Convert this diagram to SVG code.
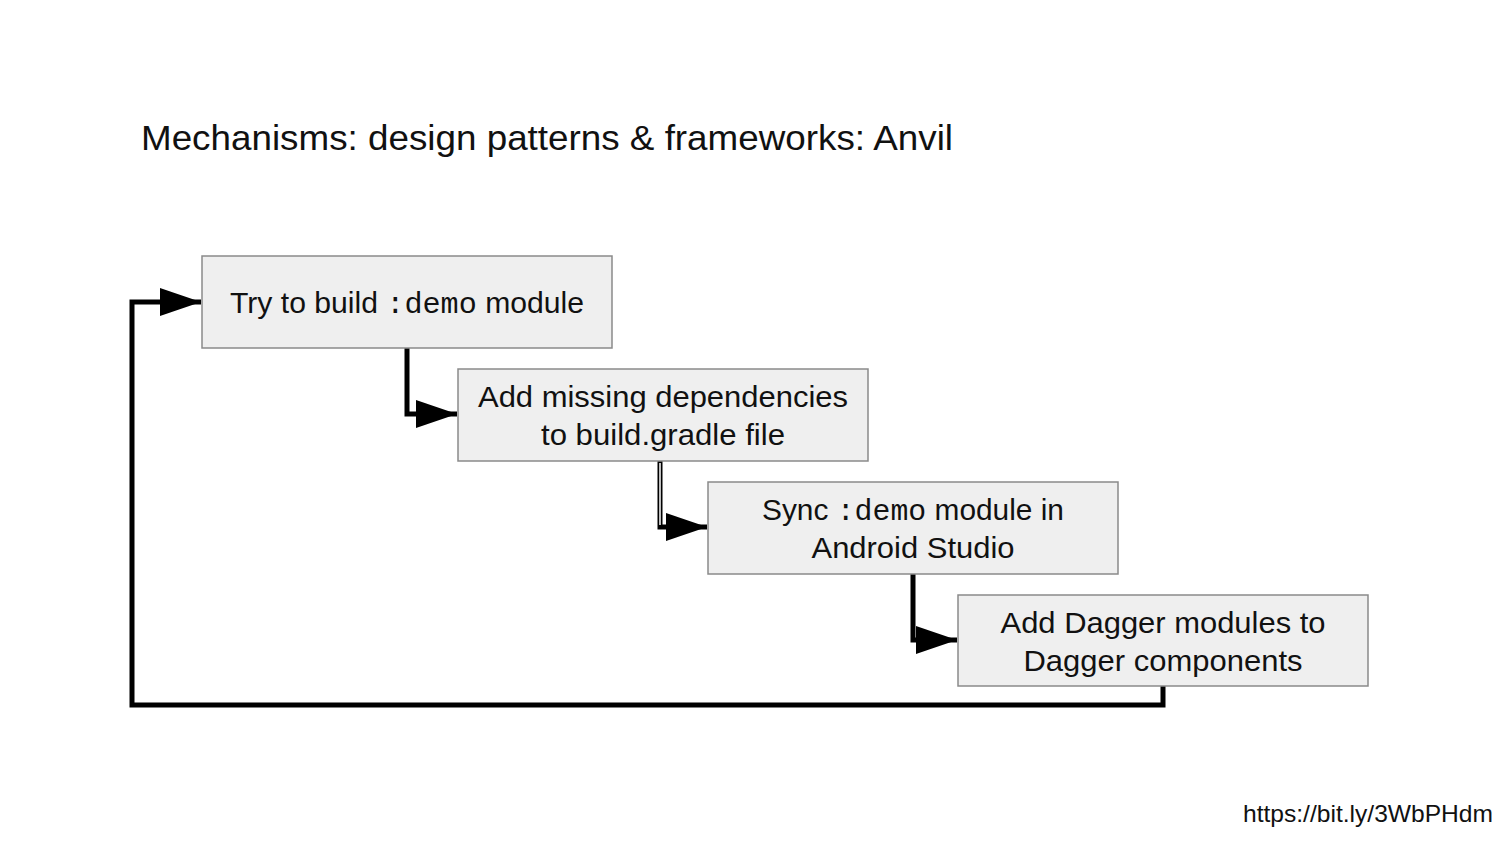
<svg xmlns="http://www.w3.org/2000/svg" width="1500" height="844" viewBox="0 0 1500 844">
<style>
.box{fill:#efefef;stroke:#8a8a8a;stroke-width:1.5}
.t{font-family:"Liberation Sans",Arial,sans-serif;font-size:30px;fill:#111;text-anchor:middle}
.m{font-family:"Liberation Mono","DejaVu Sans Mono",monospace}
.c{fill:none;stroke:#000;stroke-width:5;stroke-linejoin:miter}
</style>
<defs>
<marker id="ah" markerWidth="42" markerHeight="30" refX="41" refY="15" orient="auto" markerUnits="userSpaceOnUse">
<path d="M0,1 L41,15 L0,29 Z" fill="#000"/>
</marker>
</defs>
<rect width="1500" height="844" fill="#fff"/>
<text x="141" y="150" font-family="'Liberation Sans',Arial,sans-serif" font-size="35" fill="#111" textLength="812" lengthAdjust="spacingAndGlyphs">Mechanisms: design patterns &amp; frameworks: Anvil</text>
<g id="connectors">
<path class="c" d="M407,348 V414 H457" marker-end="url(#ah)"/>
<path class="c" d="M660,461 V527 H707" marker-end="url(#ah)"/>
<path d="M660,463 V525" stroke="#fff" stroke-width="1.5"/>
<path class="c" d="M913,574 V640 H957" marker-end="url(#ah)"/>
<path class="c" d="M1163,686 V705 H132 V302 H201" marker-end="url(#ah)"/>
</g>
<g id="n1">
<rect class="box" x="202" y="256" width="410" height="92"/>
<text class="t" x="407" y="313" textLength="354" lengthAdjust="spacingAndGlyphs">Try to build <tspan class="m">:demo</tspan> module</text>
</g>
<g id="n2">
<rect class="box" x="458" y="369" width="410" height="92"/>
<text class="t" x="663" y="407" textLength="370" lengthAdjust="spacingAndGlyphs">Add missing dependencies</text>
<text class="t" x="663" y="445" textLength="244" lengthAdjust="spacingAndGlyphs">to build.gradle file</text>
</g>
<g id="n3">
<rect class="box" x="708" y="482" width="410" height="92"/>
<text class="t" x="913" y="520" textLength="302" lengthAdjust="spacingAndGlyphs">Sync <tspan class="m">:demo</tspan> module in</text>
<text class="t" x="913" y="558" textLength="203" lengthAdjust="spacingAndGlyphs">Android Studio</text>
</g>
<g id="n4">
<rect class="box" x="958" y="595" width="410" height="91"/>
<text class="t" x="1163" y="633" textLength="325" lengthAdjust="spacingAndGlyphs">Add Dagger modules to</text>
<text class="t" x="1163" y="671" textLength="279" lengthAdjust="spacingAndGlyphs">Dagger components</text>
</g>
<text x="1493" y="822" font-family="'Liberation Sans',Arial,sans-serif" font-size="24" fill="#111" text-anchor="end" textLength="250" lengthAdjust="spacingAndGlyphs">https://bit.ly/3WbPHdm</text>
</svg>
